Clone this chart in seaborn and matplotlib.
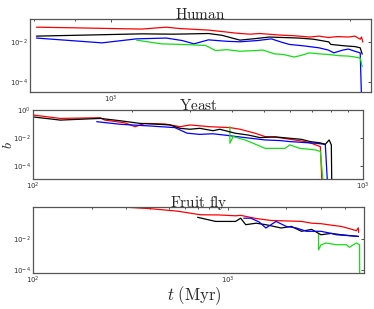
import numpy as np
import pandas as pd
import matplotlib
matplotlib.use("Agg")
import matplotlib.pyplot as plt
import matplotlib.ticker as mticker
import seaborn as sns

# ---- Human ----
human_red_t = [805, 900, 1000, 1093, 1130, 1174, 1220, 1270, 1327, 1380, 1440, 1497, 1540, 1600, 1650, 1700, 1727, 1780, 1830, 1880, 1930, 1993, 2030, 2050, 2062, 2070, 2078]
human_red_b = [0.056, 0.052, 0.048, 0.045, 0.050, 0.056, 0.048, 0.044, 0.040, 0.034, 0.028, 0.025, 0.027, 0.024, 0.022, 0.021, 0.020, 0.018, 0.020, 0.017, 0.019, 0.018, 0.020, 0.016, 0.014, 0.018, 0.010]
human_black_t = [805, 950, 1093, 1200, 1327, 1380, 1454, 1520, 1584, 1650, 1727, 1800, 1882, 1893, 1950, 1993, 2030, 2062, 2074]
human_black_b = [0.020, 0.023, 0.026, 0.025, 0.027, 0.022, 0.0126, 0.015, 0.018, 0.017, 0.016, 0.014, 0.0103, 0.0077, 0.0068, 0.0063, 0.006, 0.0052, 0.0025]
human_blue_t = [805, 974, 1077, 1174, 1230, 1272, 1327, 1400, 1454, 1530, 1593, 1640, 1678, 1750, 1829, 1880, 1910, 1960, 1993, 2030, 2062, 2074]
human_blue_b = [0.016, 0.0092, 0.0146, 0.016, 0.012, 0.0082, 0.013, 0.011, 0.0104, 0.012, 0.0146, 0.010, 0.0077, 0.0065, 0.0052, 0.0040, 0.0029, 0.0040, 0.0045, 0.0035, 0.0029, 1e-6]
human_green_t = [1077, 1157, 1250, 1316, 1354, 1400, 1454, 1520, 1554, 1607, 1650, 1702, 1740, 1777, 1829, 1882, 1940, 1993, 2030, 2062, 2074]
human_green_b = [0.0126, 0.0082, 0.0075, 0.0068, 0.0038, 0.0042, 0.0035, 0.0038, 0.0040, 0.0026, 0.0024, 0.0018, 0.0022, 0.0029, 0.0026, 0.0024, 0.0021, 0.0020, 0.0018, 0.0016, 0.0006]

# ---- Yeast ----
yeast_black_t = [100, 121, 160, 184, 211, 240, 260, 279, 299, 320, 351, 368, 409, 450, 487, 540, 600, 650, 691, 740, 768, 789, 801, 804]
yeast_black_b = [0.32, 0.19, 0.25, 0.17, 0.11, 0.095, 0.085, 0.049, 0.042, 0.049, 0.033, 0.042, 0.022, 0.016, 0.0106, 0.012, 0.0095, 0.008, 0.0055, 0.0045, 0.0035, 0.0072, 0.0032, 1e-6]
yeast_red_t = [100, 121, 160, 165, 190, 204, 218, 251, 279, 299, 343, 395, 424, 470, 505, 550, 600, 668, 700, 742, 753]
yeast_red_b = [0.44, 0.25, 0.28, 0.19, 0.12, 0.064, 0.11, 0.10, 0.064, 0.085, 0.064, 0.055, 0.042, 0.022, 0.0125, 0.011, 0.0081, 0.0055, 0.0040, 0.0024, 1e-6]
yeast_blue_t = [156, 184, 226, 269, 293, 320, 350, 381, 439, 505, 560, 600, 716, 768, 783]
yeast_blue_b = [0.146, 0.095, 0.072, 0.055, 0.022, 0.018, 0.020, 0.016, 0.0106, 0.0072, 0.0065, 0.0055, 0.0042, 0.0035, 1e-6]
yeast_green_t = [395, 395, 404, 439, 480, 505, 580, 600, 643, 716, 742, 762]
yeast_green_b = [0.064, 0.0042, 0.0125, 0.0072, 0.003, 0.0018, 0.0018, 0.0032, 0.0018, 0.0014, 0.0011, 1e-6]

# ---- Fruit fly ----
fly_red_t = [258, 401, 550, 724, 900, 1097, 1165, 1400, 1668, 2000, 2392, 2700, 3010, 3400, 3826, 4200, 4580, 4680, 4700]
fly_red_b = [1.2, 0.86, 0.6, 0.35, 0.34, 0.30, 0.32, 0.20, 0.15, 0.14, 0.13, 0.10, 0.093, 0.075, 0.062, 0.045, 0.033, 0.05, 0.025]
fly_black_t = [700, 866, 1097, 1165, 1237, 1400, 1570, 1881, 2121, 2392, 2696, 3010, 3400, 3826, 4200, 4690]
fly_black_b = [0.24, 0.13, 0.13, 0.21, 0.08, 0.1, 0.08, 0.049, 0.062, 0.03, 0.04, 0.018, 0.022, 0.018, 0.016, 0.014]
fly_blue_t = [1208, 1314, 1450, 1570, 1770, 1997, 2252, 2539, 3010, 3400, 3604, 4100, 4690]
fly_blue_b = [0.21, 0.21, 0.12, 0.049, 0.13, 0.062, 0.049, 0.03, 0.03, 0.022, 0.018, 0.016, 0.014]
fly_green_t = [2925, 2925, 3010, 3196, 3604, 4062, 4210, 4400, 4580, 4750, 4760]
fly_green_b = [0.02, 0.0019, 0.004, 0.0053, 0.0041, 0.0041, 0.0028, 0.004, 0.0053, 0.004, 1e-6]

GREEN = "#11e011"

panels = [
    ("Human", [(human_red_t, human_red_b, "red"), (human_black_t, human_black_b, "black"),
               (human_blue_t, human_blue_b, "blue"), (human_green_t, human_green_b, GREEN)],
     (790, 2130), (10**-4.5, 10**-0.85), [1e-4, 1e-2],
     [0.080, 0.702, 0.913, 0.236]),
    ("Yeast", [(yeast_red_t, yeast_red_b, "red"), (yeast_blue_t, yeast_blue_b, "blue"),
               (yeast_green_t, yeast_green_b, GREEN), (yeast_black_t, yeast_black_b, "black")],
     (100, 1000), (10**-4.93, 1.0), [1e-4, 1e-2, 1],
     [0.088, 0.421, 0.883, 0.223]),
    ("Fruit fly", [(fly_red_t, fly_red_b, "red"), (fly_green_t, fly_green_b, GREEN),
                   (fly_black_t, fly_black_b, "black"), (fly_blue_t, fly_blue_b, "blue")],
     (100, 5000), (10**-4.2, 1.1), [1e-4, 1e-2],
     [0.088, 0.117, 0.885, 0.213]),
]

sns.set_style("white")
plt.rcParams["font.family"] = ["DejaVu Sans"]

fig = plt.figure(figsize=(3.74, 3.09), dpi=100)

axes = []
for title, series, xl, yl, yt, pos in panels:
    ax = fig.add_axes(pos)
    for t, b, c in series:
        df = pd.DataFrame({"t": t, "b": b})
        sns.lineplot(data=df, x="t", y="b", color=c, lw=0.9, ax=ax,
                     estimator=None, sort=False)
    ax.set_xscale("log")
    ax.set_yscale("log")
    ax.set_xlim(*xl)
    ax.set_ylim(*yl)
    ax.set_yticks(yt)
    ax.yaxis.set_minor_locator(mticker.NullLocator())
    ax.xaxis.set_major_locator(mticker.LogLocator(base=10))
    ax.xaxis.set_minor_locator(mticker.LogLocator(base=10, subs=np.arange(2, 10)))
    ax.xaxis.set_minor_formatter(mticker.NullFormatter())
    ax.tick_params(which="both", direction="in", top=True, right=True,
                   labelsize=5, length=2.5, width=0.6, pad=1.5, colors="#333333")
    ax.tick_params(which="minor", length=1.5)
    for s in ax.spines.values():
        s.set_color("#555555")
        s.set_linewidth(0.9)
    ax.set_xlabel("")
    ax.set_ylabel("")
    ax.set_title(r"$\mathrm{" + title.replace(" ", r"\ ") + "}$", fontsize=11,
                 pad=0, math_fontfamily="cm")
    axes.append(ax)

fig.text(0.004, 0.531, r"$b$", fontsize=10, math_fontfamily="cm",
         rotation=90, ha="left", va="center")
fig.text(0.52, 0.006, r"$t\ (\mathrm{Myr})$", fontsize=12, math_fontfamily="cm",
         ha="center", va="bottom")

fig.savefig("out.png", dpi=100)
